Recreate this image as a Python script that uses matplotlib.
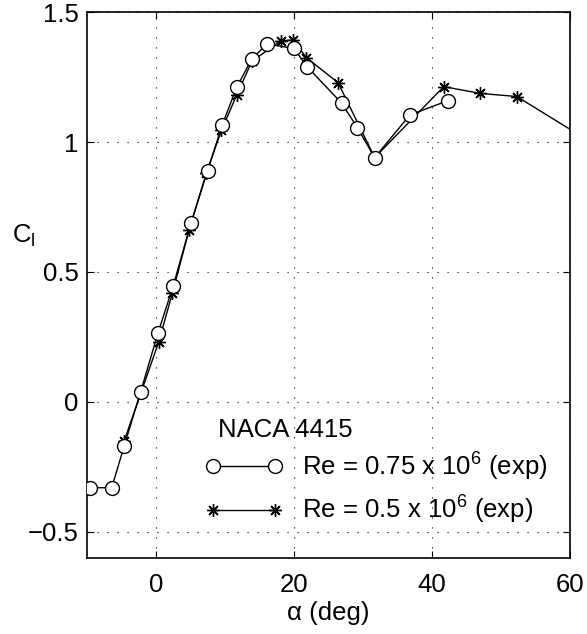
import matplotlib
matplotlib.use("Agg")
import matplotlib.pyplot as plt

plt.rcParams['font.family'] = ['Liberation Sans', 'DejaVu Sans']
plt.rcParams['mathtext.fontset'] = 'custom'
plt.rcParams['mathtext.rm'] = 'Liberation Sans'
plt.rcParams['mathtext.it'] = 'Liberation Sans'

# Re = 0.75e6 (exp)
alpha_075 = [-9.6, -6.4, -4.6, -2.2, 0.3, 2.5, 5.1, 7.5, 9.6, 11.7, 13.9, 16.1,
             20.0, 21.9, 26.9, 29.2, 31.7, 36.8, 42.3]
cl_075 = [-0.33, -0.33, -0.17, 0.04, 0.265, 0.446, 0.69, 0.89, 1.065, 1.21, 1.32, 1.377,
          1.36, 1.29, 1.15, 1.055, 0.94, 1.104, 1.159]

# Re = 0.5e6 (exp)
alpha_05 = [-4.6, 0.4, 2.4, 4.8, 7.3, 9.5, 11.7, 13.9, 18.1, 19.9, 21.8, 26.4,
            31.7, 41.7, 47.0, 52.3, 63.0]
cl_05 = [-0.15, 0.23, 0.42, 0.66, 0.88, 1.045, 1.18, 1.31, 1.39, 1.392, 1.325, 1.228,
         0.94, 1.213, 1.187, 1.175, 1.0]

xticks = [0, 20, 40, 60]
yticks = [-0.5, 0, 0.5, 1, 1.5]
ytick_labels = ['\u22120.5', '0', '0.5', '1', '1.5']

fig = plt.figure(figsize=(5.87, 6.34), dpi=100)
ax = fig.add_axes([0.148, 0.12, 0.823, 0.861])

ax.plot(alpha_075, cl_075, color='black', linewidth=1, marker='o', markersize=10,
        markerfacecolor='white', markeredgecolor='black', markeredgewidth=1,
        label='Re = 0.75 x 10$^6$ (exp)', zorder=3)
ax.plot(alpha_05, cl_05, color='black', linewidth=1, marker=(8, 2, 0), markersize=9,
        markeredgewidth=1, label='Re = 0.5 x 10$^6$ (exp)', zorder=2)

ax.set_xlim(-10, 60)
ax.set_ylim(-0.6, 1.5)
ax.set_xticks(xticks)
ax.set_yticks(yticks)
ax.set_yticklabels(ytick_labels)
ax.tick_params(direction='in', labelsize=18.5, length=5, top=True, right=True, pad=6)
ax.tick_params(axis='x', pad=11)
ax.grid(True, linestyle=(0, (1, 8)), color='black', linewidth=0.8)
for s in ax.spines.values():
    s.set_linewidth(1.2)

ax.set_xlabel('\u03b1 (deg)', fontsize=18.5, labelpad=3)
ax.set_ylabel('C$_\\mathrm{l}$', fontsize=18.5, rotation=0, va='center')
ax.yaxis.set_label_coords(-0.13, 0.59)

ax.text(0.271, 0.234, 'NACA 4415', transform=ax.transAxes, fontsize=18.5,
        ha='left', va='center')
leg = ax.legend(loc='lower left', bbox_to_anchor=(0.208, 0.025), frameon=False,
                fontsize=18.5, numpoints=2, handlelength=3.0, handletextpad=0.75,
                labelspacing=0.45, borderpad=0.2)

fig.savefig('out.png', dpi=100)
